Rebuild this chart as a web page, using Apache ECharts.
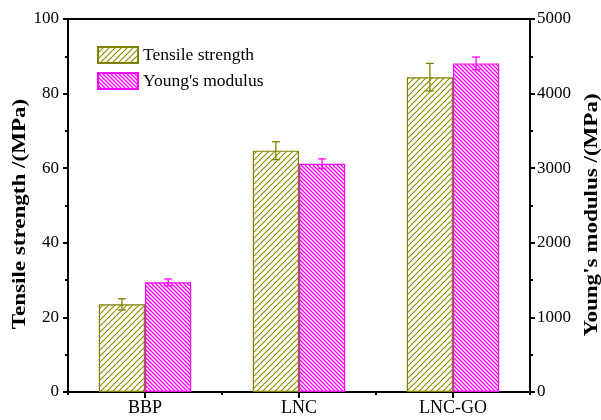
<!DOCTYPE html>
<html><head><meta charset="utf-8">
<script src="https://cdn.jsdelivr.net/npm/echarts@6/dist/echarts.min.js"></script>
<style>html,body{margin:0;padding:0;background:#fff}#c{width:601px;height:420px}</style>
</head><body><div id="c"></div>
<script>
var categories = ['BBP', 'LNC', 'LNC-GO'];
var tensile = [23.5, 64.7, 84.4];
var tensileErr = [1.5, 2.4, 3.7];
var youngs = [1470, 3060, 4405];
var youngsErr = [45, 65, 85];
var leftTicks = [0, 100, 20];
var rightTicks = [0, 5000, 1000];
var leftName = 'Tensile strength /(MPa)';
var rightName = "Young's modulus /(MPa)";

function hatch(size, color, lw, dir) {
  var c = document.createElement('canvas');
  c.width = size; c.height = size;
  var g = c.getContext('2d');
  g.fillStyle = '#fff'; g.fillRect(0, 0, size, size);
  g.strokeStyle = color; g.lineWidth = lw;
  g.beginPath();
  if (dir > 0) {
    g.moveTo(0, size); g.lineTo(size, 0);
    g.moveTo(-size, size); g.lineTo(size, -size);
    g.moveTo(0, 2 * size); g.lineTo(2 * size, 0);
  } else {
    g.moveTo(0, 0); g.lineTo(size, size);
    g.moveTo(-size, 0); g.lineTo(size, 2 * size);
    g.moveTo(0, -size); g.lineTo(2 * size, size);
  }
  g.stroke();
  return c;
}
var olive = '#808000', mag = '#ff00ff';
var font = 'Liberation Serif';

function errItem(sign, color) {
  return function (params, api) {
    var idx = api.value(0), v = api.value(1), e = api.value(2);
    var bw = api.size([1, 0])[0];
    var off = sign * bw * 0.15;
    var top = api.coord([idx, v + e]);
    var bot = api.coord([idx, v - e]);
    var x = top[0] + off;
    var hw = 4;
    var st = { stroke: color, lineWidth: 1.3 };
    return { type: 'group', children: [
      { type: 'line', shape: { x1: x, y1: top[1], x2: x, y2: bot[1] }, style: st },
      { type: 'line', shape: { x1: x - hw, y1: top[1], x2: x + hw, y2: top[1] }, style: st },
      { type: 'line', shape: { x1: x - hw, y1: bot[1], x2: x + hw, y2: bot[1] }, style: st }
    ]};
  };
}

function nameText(txt, x, y) {
  return {
    type: 'text', x: x, y: y, rotation: Math.PI / 2, scaleX: 1.28, scaleY: 1,
    style: { text: txt, font: 'bold 18px "Liberation Serif"', fill: '#000', align: 'center', verticalAlign: 'middle' }
  };
}

var chart = echarts.init(document.getElementById('c'), null, { renderer: 'canvas' });
var axisLine = { show: true, lineStyle: { color: '#000', width: 2 } };
var plain = function (v) { return String(v); };
var tickFont = 17;
chart.setOption({
  animation: false,
  backgroundColor: '#fff',
  grid: { left: 68, right: 71, top: 19, bottom: 28, containLabel: false, outerBoundsMode: 'none',
          show: true, borderColor: '#000', borderWidth: 2, backgroundColor: 'transparent' },
  legend: {
    data: ['Tensile strength', "Young's modulus"], icon: 'rect',
    orient: 'vertical', left: 97, top: 46, padding: 0, itemWidth: 40, itemHeight: 16, itemGap: 8,
    textStyle: { fontFamily: font, fontSize: 17.5, color: '#000' }
  },
  graphic: [nameText(leftName, 20, 214), nameText(rightName, 592, 215)],
  xAxis: [{
    type: 'category', data: categories, position: 'bottom',
    axisLine: axisLine,
    axisTick: { show: true, alignWithLabel: true, length: 6, lineStyle: { color: '#000', width: 2 } },
    axisLabel: { fontFamily: font, fontSize: 18, color: '#000', margin: 7 },
    splitLine: { show: false }
  }, {
    type: 'category', data: categories, position: 'bottom',
    axisLine: { show: false },
    axisTick: { show: true, length: 3, lineStyle: { color: '#000', width: 2 } },
    axisLabel: { show: false }, splitLine: { show: false }
  }],
  yAxis: [{
    type: 'value', min: leftTicks[0], max: leftTicks[1], interval: leftTicks[2], position: 'left',
    axisLine: axisLine,
    axisTick: { show: true, length: 5, lineStyle: { color: '#000', width: 2 } },
    minorTick: { show: true, splitNumber: 2, length: 3, lineStyle: { color: '#000', width: 2 } },
    axisLabel: { fontFamily: font, fontSize: tickFont, color: '#000', margin: 9, formatter: plain },
    splitLine: { show: false }
  }, {
    type: 'value', min: rightTicks[0], max: rightTicks[1], interval: rightTicks[2], position: 'right',
    axisLine: axisLine,
    axisTick: { show: true, length: 5, lineStyle: { color: '#000', width: 2 } },
    minorTick: { show: true, splitNumber: 2, length: 3, lineStyle: { color: '#000', width: 2 } },
    axisLabel: { fontFamily: font, fontSize: tickFont, color: '#000', margin: 7, formatter: plain },
    splitLine: { show: false }
  }],
  series: [{
    name: 'Tensile strength', type: 'bar', yAxisIndex: 0, data: tensile,
    barGap: '0%', barCategoryGap: '40%',
    itemStyle: { color: { image: hatch(6, '#909000', 1.2, 1), repeat: 'repeat' }, borderColor: olive, borderWidth: 1.2 }
  }, {
    name: "Young's modulus", type: 'bar', yAxisIndex: 1, data: youngs,
    barGap: '0%', barCategoryGap: '40%',
    itemStyle: { color: { image: hatch(4, mag, 1.4, -1), repeat: 'repeat' }, borderColor: mag, borderWidth: 1.2 }
  }, {
    name: 'tensileErr', type: 'custom', yAxisIndex: 0, z: 5,
    renderItem: errItem(-1, olive),
    data: tensile.map(function (v, i) { return [i, v, tensileErr[i]]; })
  }, {
    name: 'youngsErr', type: 'custom', yAxisIndex: 1, z: 5,
    renderItem: errItem(1, mag),
    data: youngs.map(function (v, i) { return [i, v, youngsErr[i]]; })
  }]
});
</script></body></html>
